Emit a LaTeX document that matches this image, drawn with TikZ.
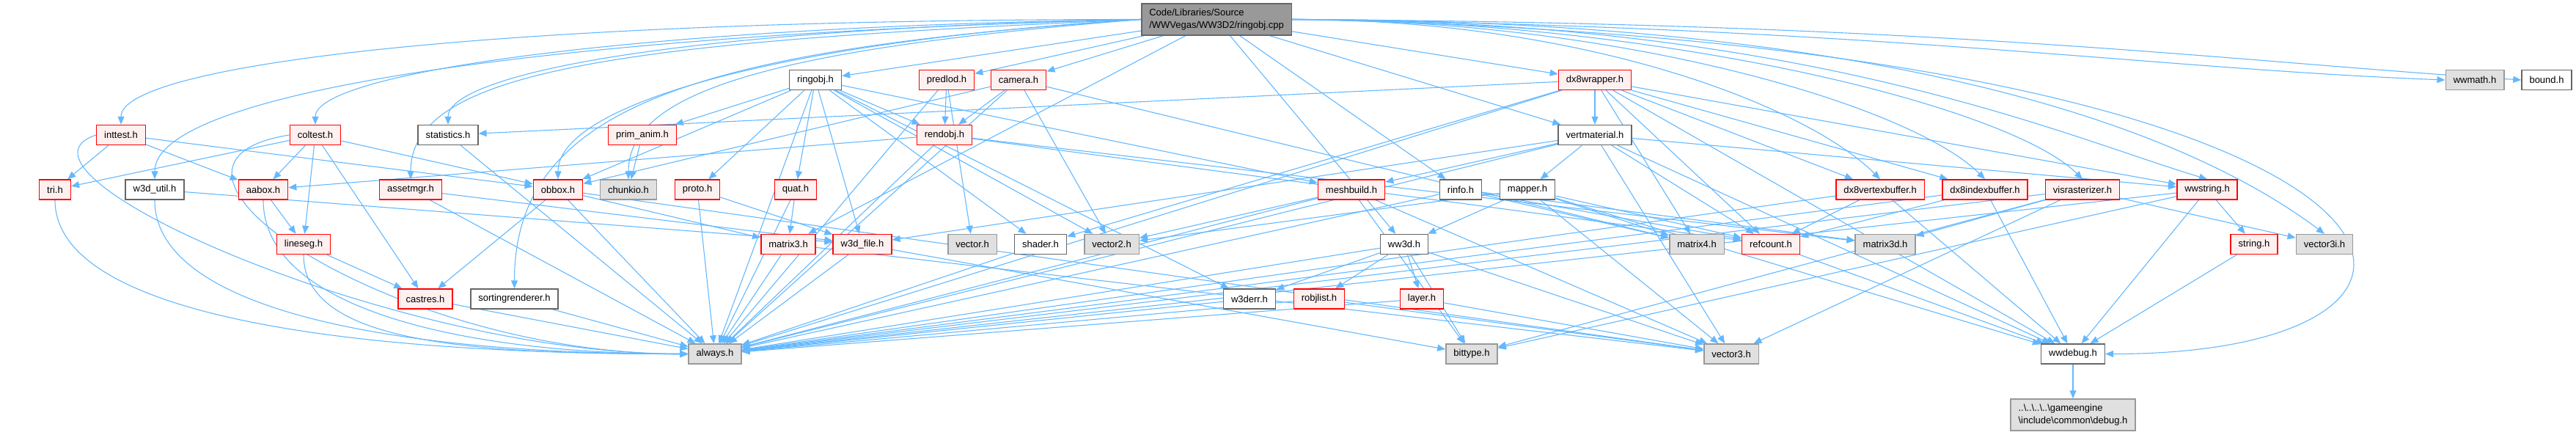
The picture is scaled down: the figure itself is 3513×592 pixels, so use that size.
\documentclass[tikz,border=0pt]{standalone}
\usepackage{fontspec}
\setmainfont{Liberation Sans}
\usetikzlibrary{arrows.meta,backgrounds}
\definecolor{Edge}{HTML}{63B8FF}
\definecolor{RedLine}{HTML}{FF0000}
\definecolor{RedFill}{HTML}{FFF0F0}
\definecolor{SysLine}{HTML}{999999}
\definecolor{SysFill}{HTML}{E0E0E0}
\definecolor{DocLine}{HTML}{666666}
\definecolor{RootFill}{HTML}{999999}
\tikzset{file/.style={draw=DocLine,fill=white,line width=1.5pt,minimum height=27pt,inner xsep=10.5pt,inner ysep=0pt,font=\fontsize{13}{16.5}\selectfont},hdr/.style={file,draw=RedLine,fill=RedFill},sys/.style={file,draw=SysLine,fill=SysFill},src/.style={file,fill=RootFill,align=left,minimum height=43pt},dep/.style={-{Triangle[length=11pt,width=9pt]},line width=1.1pt,draw=Edge}}
\begin{document}
\begin{tikzpicture}[x=1pt,y=-1pt]
\useasboundingbox (0,0) rectangle (3513,592);
% source file
\node[src] (root) at (1659,26.5) {Code/Libraries/Source\\/WWVegas/WW3D2/ringobj.cpp};
% first level
\node[file] (ringobj) at (1112,109) {ringobj.h};
\node[hdr] (predlod) at (1291,109) {predlod.h};
\node[hdr] (camera) at (1389,109) {camera.h};
\node[hdr] (dxwrap) at (2175,109) {dx8wrapper.h};
\node[sys] (wwmath) at (3375,109) {wwmath.h};
\node[file] (bound) at (3473,109) {bound.h};
\node[hdr] (inttest) at (165,184) {inttest.h};
\node[hdr] (coltest) at (430,184) {coltest.h};
\node[file] (stats) at (611,184) {statistics.h};
\node[hdr] (primanim) at (876,184) {prim\_anim.h};
\node[hdr] (rendobj) at (1288,184) {rendobj.h};
\node[file] (vertmat) at (2175,184) {vertmaterial.h};
\node[hdr] (tri) at (75,258.5) {tri.h};
\node[file] (w3dutil) at (211,258.5) {w3d\_util.h};
\node[hdr] (aabox) at (359,258.5) {aabox.h};
\node[hdr] (assetmgr) at (560,258.5) {assetmgr.h};
\node[hdr] (obbox) at (761,258.5) {obbox.h};
\node[sys] (chunkio) at (857,258.5) {chunkio.h};
\node[hdr] (proto) at (951,258.5) {proto.h};
\node[hdr] (quat) at (1085,258.5) {quat.h};
\node[hdr] (meshbuild) at (1843,258.5) {meshbuild.h};
\node[file] (rinfo) at (1992,258.5) {rinfo.h};
\node[file] (mapper) at (2083,258.5) {mapper.h};
\node[hdr] (dxvb) at (2564,258.5) {dx8vertexbuffer.h};
\node[hdr] (dxib) at (2707,258.5) {dx8indexbuffer.h};
\node[hdr] (visrast) at (2840,258.5) {visrasterizer.h};
\node[hdr] (wwstring) at (3010,258.5) {wwstring.h};
\node[hdr] (lineseg) at (414,333) {lineseg.h};
\node[hdr] (matthree) at (1075,333) {matrix3.h};
\node[hdr] (w3dfile) at (1176,333) {w3d\_file.h};
\node[sys] (vector) at (1326,333) {vector.h};
\node[file] (shader) at (1419,333) {shader.h};
\node[sys] (vectwo) at (1516,333) {vector2.h};
\node[file] (wwthreed) at (1915,333) {ww3d.h};
\node[sys] (matfour) at (2314,333) {matrix4.h};
\node[hdr] (refcount) at (2415,333) {refcount.h};
\node[sys] (matthreed) at (2571,333) {matrix3d.h};
\node[hdr] (string) at (3074,333) {string.h};
\node[sys] (vecthreei) at (3170,333) {vector3i.h};
\node[hdr] (castres) at (580,407.5) {castres.h};
\node[file] (sortrend) at (701.5,407.5) {sortingrenderer.h};
\node[file] (w3derr) at (1704,407.5) {w3derr.h};
\node[hdr] (robjlist) at (1799,407.5) {robjlist.h};
\node[hdr] (layer) at (1939,407.5) {layer.h};
\node[sys] (always) at (975,482.5) {always.h};
\node[sys] (bittype) at (2007,482.5) {bittype.h};
\node[sys] (vecthree) at (2361,482.5) {vector3.h};
\node[file] (wwdebug) at (2827,482.5) {wwdebug.h};
\node[sys,align=left,minimum height=43pt] (debug) at (2827,565.5) {..\textbackslash..\textbackslash..\textbackslash..\textbackslash gameengine\\\textbackslash include\textbackslash common\textbackslash debug.h};
\begin{pgfonlayer}{background}
% includes of the source file
\draw[dep] (root)--(ringobj);\draw[dep] (root)--(predlod);\draw[dep] (root)--(camera);\draw[dep] (root)--(dxwrap);
\draw[dep] (root.east) .. controls +(800,10) and +(-400,-15) .. (wwmath.west);
\draw[dep] (root.east) .. controls +(900,5) and +(-400,-25) .. (bound.west);
\draw[dep] (root.west) .. controls +(-900,0) and +(0,-80) .. (inttest.north);
\draw[dep] (root.west) .. controls +(-700,10) and +(0,-70) .. (coltest.north);
\draw[dep] (root.west) .. controls +(-700,15) and +(0,-60) .. (stats.north);
\draw[dep] (root.west) .. controls +(-800,20) and +(0,-120) .. (w3dutil.north);
\draw[dep] (root.west) .. controls +(-700,30) and +(0,-150) .. (assetmgr.north);
\draw[dep] (root.west) .. controls +(-500,30) and +(0,-100) .. (obbox.north);
\draw[dep] (root.west) .. controls +(-500,40) and +(0,-120) .. (chunkio.north);
\draw[dep] (root.west) .. controls +(-600,40) and +(0,-250) .. (sortrend.north);
\draw[dep] (root)--(vertmat);\draw[dep] (root)--(rinfo);\draw[dep] (root)--(wwthreed);\draw[dep] (root)--(matthree);
\draw[dep] (root.east) .. controls +(400,0) and +(-100,-100) .. (dxvb.north);
\draw[dep] (root.east) .. controls +(450,0) and +(-100,-100) .. (dxib.north);
\draw[dep] (root.east) .. controls +(500,0) and +(-100,-100) .. (visrast.north);
\draw[dep] (root.east) .. controls +(700,0) and +(-200,-60) .. (wwstring.north);
\draw[dep] (root.east) .. controls +(800,0) and +(-200,-150) .. (vecthreei.north);
\draw[dep] (root.east) .. controls +(1600,30) and +(600,0) .. (wwdebug.east);
% headers
\draw[dep] (ringobj)--(always);\draw[dep] (ringobj)--(rendobj);\draw[dep] (ringobj)--(primanim);\draw[dep] (ringobj)--(proto);
\draw[dep] (ringobj)--(quat);\draw[dep] (ringobj)--(obbox);\draw[dep] (ringobj)--(w3dfile);\draw[dep] (ringobj)--(shader);
\draw[dep] (ringobj)--(vectwo);\draw[dep] (ringobj)--(meshbuild);\draw[dep] (ringobj)--(w3derr);
\draw[dep] (predlod)--(rendobj);\draw[dep] (predlod)--(vector);\draw[dep] (predlod)--(always);
\draw[dep] (camera)--(rendobj);\draw[dep] (camera)--(obbox);\draw[dep] (camera)--(matfour);\draw[dep] (camera)--(vectwo);\draw[dep] (camera)--(always);
\draw[dep] (dxwrap)--(vertmat);\draw[dep] (dxwrap)--(stats);\draw[dep] (dxwrap)--(wwstring);\draw[dep] (dxwrap)--(dxvb);
\draw[dep] (dxwrap)--(dxib);\draw[dep] (dxwrap)--(matfour);\draw[dep] (dxwrap)--(shader);\draw[dep] (dxwrap)--(refcount);
\draw[dep] (dxwrap)--(always);\draw[dep] (dxwrap)--(wwdebug);
\draw[dep] (vertmat)--(mapper);\draw[dep] (vertmat)--(meshbuild);\draw[dep] (vertmat)--(w3dfile);\draw[dep] (vertmat)--(wwstring);
\draw[dep] (vertmat)--(refcount);\draw[dep] (vertmat)--(vecthree);\draw[dep] (vertmat)--(wwdebug);\draw[dep] (vertmat)--(always);
\draw[dep] (inttest)--(tri);\draw[dep] (inttest)--(aabox);\draw[dep] (inttest)--(obbox);
\draw[dep] (inttest.west) .. controls +(-150,50) and +(-400,0) .. (always.west);
\draw[dep] (coltest)--(tri);\draw[dep] (coltest)--(aabox);\draw[dep] (coltest)--(obbox);\draw[dep] (coltest)--(lineseg);
\draw[dep] (coltest)--(castres);\draw[dep] (coltest.west) .. controls +(-250,40) and +(-400,0) .. (always.west);
\draw[dep] (stats)--(always);\draw[dep] (primanim)--(chunkio);
\draw[dep] (rendobj)--(aabox);\draw[dep] (rendobj)--(refcount);\draw[dep] (rendobj)--(matthreed);\draw[dep] (rendobj)--(always);
\draw[dep] (tri.south) .. controls +(0,150) and +(-500,0) .. (always.west);
\draw[dep] (w3dutil.south) .. controls +(0,150) and +(-400,0) .. (always.west);\draw[dep] (w3dutil)--(w3dfile);
\draw[dep] (aabox)--(lineseg);\draw[dep] (aabox.south) .. controls +(0,150) and +(-300,0) .. (always.west);
\draw[dep] (assetmgr)--(always);\draw[dep] (assetmgr)--(w3dfile);
\draw[dep] (obbox)--(castres);\draw[dep] (obbox)--(matthree);\draw[dep] (obbox)--(always);\draw[dep] (obbox)--(vecthree);
\draw[dep] (proto)--(always);\draw[dep] (proto)--(w3dfile);
\draw[dep] (quat)--(matthree);\draw[dep] (quat)--(always);
\draw[dep] (meshbuild)--(always);\draw[dep] (meshbuild)--(vectwo);\draw[dep] (meshbuild)--(vecthree);\draw[dep] (meshbuild)--(bittype);
\draw[dep] (rinfo)--(matthreed);\draw[dep] (rinfo)--(matfour);\draw[dep] (rinfo)--(refcount);\draw[dep] (rinfo)--(always);
\draw[dep] (mapper)--(wwthreed);\draw[dep] (mapper)--(refcount);\draw[dep] (mapper)--(matfour);\draw[dep] (mapper)--(vectwo);
\draw[dep] (mapper)--(vecthree);\draw[dep] (mapper)--(wwdebug);
\draw[dep] (dxvb)--(refcount);\draw[dep] (dxvb)--(wwdebug);\draw[dep] (dxvb)--(always);
\draw[dep] (dxib)--(refcount);\draw[dep] (dxib)--(wwdebug);\draw[dep] (dxib)--(always);
\draw[dep] (visrast)--(matthreed);\draw[dep] (visrast)--(vecthreei);\draw[dep] (visrast)--(vecthree);\draw[dep] (visrast)--(always);\draw[dep] (visrast)--(bittype);
\draw[dep] (wwstring)--(string);\draw[dep] (wwstring)--(wwdebug);\draw[dep] (wwstring)--(always);\draw[dep] (wwstring)--(bittype);
\draw[dep] (lineseg)--(castres);\draw[dep] (lineseg.south) .. controls +(0,120) and +(-300,0) .. (always.west);\draw[dep] (castres)--(always);
\draw[dep] (matthree)--(always);\draw[dep] (matthree)--(vecthree);
\draw[dep] (w3dfile)--(always);\draw[dep] (w3dfile)--(bittype);\draw[dep] (shader)--(always);
\draw[dep] (wwthreed)--(w3derr);\draw[dep] (wwthreed)--(robjlist);\draw[dep] (wwthreed)--(layer);\draw[dep] (wwthreed)--(vecthree);
\draw[dep] (wwthreed)--(always);\draw[dep] (wwthreed)--(bittype);
\draw[dep] (robjlist)--(vecthree);\draw[dep] (robjlist)--(always);\draw[dep] (layer)--(always);\draw[dep] (layer)--(vecthree);
\draw[dep] (w3derr)--(always);\draw[dep] (sortrend)--(always);
\draw[dep] (refcount)--(wwdebug);\draw[dep] (string)--(wwdebug);\draw[dep] (wwdebug)--(debug);
\end{pgfonlayer}
\end{tikzpicture}
\end{document}
